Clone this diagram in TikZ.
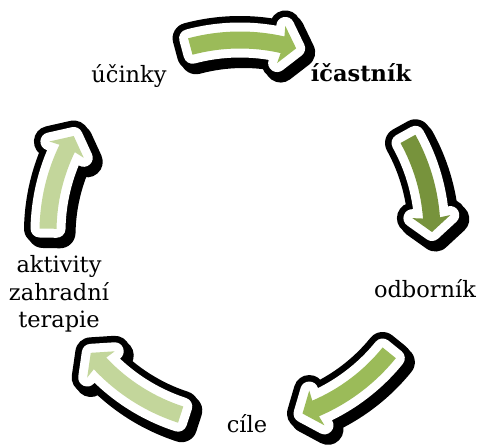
\documentclass[tikz,border=0pt]{standalone}
\usepackage{fontspec}
\setmainfont{DejaVu Serif}
\usepackage{xcolor}
\usepackage{tikz}
\usetikzlibrary{calc, positioning}

\definecolor{zelena}{HTML}{9BBB59}
\definecolor{tmavazelena}{HTML}{77933C}
\definecolor{svetlazelena}{HTML}{C3D69B}

% tvar jedne sipky cyklu: #1 = uhel konce, #2 = uhel hrotu
\newcommand{\tvarsipky}[2]{%
  (#1:200.5) arc[start angle=#1, end angle={#2+4.2}, radius=200.5]
  -- ({#2+4.6}:211) -- (#2:192) -- ({#2+4.6}:173) -- ({#2+4.2}:183.5)
  arc[start angle={#2+4.2}, end angle=#1, radius=183.5] -- cycle}

% sipka: stin, cerny okraj, bily okraj, barevna vypln
\newcommand{\cyklsipka}[3]{%
  \path[fill=black, draw=black, line width=31, line join=round, shift={(243.5,208)}] \tvarsipky{#1}{#2};
  \path[fill=black, draw=black, line width=31, line join=round, shift={(240,212)}] \tvarsipky{#1}{#2};
  \path[fill=white, draw=white, line width=18, line join=round, shift={(240,212)}] \tvarsipky{#1}{#2};
  \path[fill=#3, shift={(240,212)}] \tvarsipky{#1}{#2};}

\begin{document}
\begin{tikzpicture}[x=1pt, y=1pt,
    popis/.style={inner sep=0pt, font=\fontsize{22.5}{27.5}\selectfont}]

    \useasboundingbox (0,0) rectangle (481,444);

    % =================================================================
    % 1. SIPKY CYKLU
    % =================================================================
    \cyklsipka{105}{73}{zelena}
    \cyklsipka{29}{0}{tmavazelena}
    \cyklsipka{-39}{-71}{zelena}
    \cyklsipka{-108}{-141}{svetlazelena}
    \cyklsipka{179}{150}{svetlazelena}

    % =================================================================
    % 2. POPISY
    % =================================================================
    \node[popis, anchor=base] (ucinky) at (129, 361) {účinky};
    \node[popis, anchor=base, font=\fontsize{22.5}{27.5}\selectfont\bfseries] (ucastnik) at (361, 362) {íčastník};
    \node[popis, anchor=base] (odbornik) at (425, 146) {odborník};
    \node[popis, anchor=base] (cile) at (247, 12) {cíle};
    \node[popis, align=center] (aktivity) at (59, 150) {aktivity\\zahradní\\terapie};

\end{tikzpicture}
\end{document}
